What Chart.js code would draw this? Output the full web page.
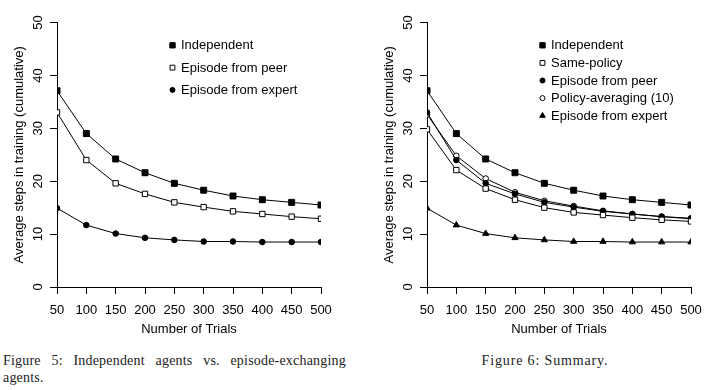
<!DOCTYPE html>
<html>
<head>
<meta charset="utf-8">
<script src="https://cdn.jsdelivr.net/npm/chart.js@4/dist/chart.umd.min.js"></script>
<style>
  html, body { margin:0; padding:0; background:#fff; }
  body { width:707px; height:390px; position:relative; overflow:hidden; }
  canvas { position:absolute; top:0; }
  #c1 { left:0; }
  #c2 { left:370px; }
  .cap { position:absolute; font-family:"Liberation Serif", "Times New Roman", serif; font-size:14px; line-height:17px; color:#222; }
  #cap5 { left:3px; top:352px; width:343px; letter-spacing:0.2px; }
  #cap5 .l1 { text-align:justify; text-align-last:justify; white-space:nowrap; }
  #cap6 { left:445px; top:352px; width:200px; text-align:center; letter-spacing:0.85px; }
</style>
</head>
<body>
<canvas id="c1" width="345" height="345"></canvas>
<canvas id="c2" width="345" height="345"></canvas>
<div class="cap" id="cap5"><div class="l1">Figure 5: Independent agents vs. episode-exchanging</div><div>agents.</div></div>
<div class="cap" id="cap6">Figure 6: Summary.</div>
<script>
const trials = [50, 100, 150, 200, 250, 300, 350, 400, 450, 500];
const independent = [37.1, 29.0, 24.2, 21.6, 19.6, 18.3, 17.2, 16.5, 16.0, 15.5];
const fromPeer = [33.0, 24.0, 19.6, 17.6, 16.0, 15.1, 14.3, 13.8, 13.3, 12.9];
const fromExpert = [14.9, 11.7, 10.1, 9.3, 8.9, 8.6, 8.6, 8.5, 8.5, 8.5];
const samePolicy = [29.8, 22.1, 18.6, 16.5, 15.0, 14.1, 13.6, 13.1, 12.7, 12.4];
const policyAvg = [32.6, 24.8, 20.5, 17.9, 16.3, 15.3, 14.4, 13.8, 13.3, 13.0];
const yTicks = [0, 10, 20, 30, 40, 50];

Chart.defaults.font.family = '"Liberation Sans", Arial, sans-serif';
Chart.defaults.font.size = 13;
Chart.defaults.color = '#000';

function series(label, values, style, fill, radius){
  return {
    label, data: trials.map((t,i)=>({x:t, y:values[i]})),
    borderColor:'#000', borderWidth:1, tension:0, fill:false,
    pointStyle:style, pointRadius:radius, pointHoverRadius:radius,
    pointBackgroundColor:fill, pointBorderColor:'#000', pointBorderWidth:1
  };
}

// legend inside the plot, drawn from the datasets
const innerLegend = {
  id:'innerLegend',
  afterDraw(chart, args, opts){
    const ctx = chart.ctx;
    ctx.save();
    ctx.font = '13px "Liberation Sans", Arial, sans-serif';
    ctx.textBaseline = 'middle';
    ctx.textAlign = 'left';
    chart.data.datasets.forEach((ds,i)=>{
      const y = opts.y + i*opts.gap;
      ctx.fillStyle = ds.pointBackgroundColor;
      ctx.strokeStyle = '#000';
      ctx.lineWidth = 1;
      Chart.helpers.drawPoint(ctx, {pointStyle:ds.pointStyle, radius:ds.pointRadius*0.9, rotation:0, borderWidth:1}, opts.x, y);
      ctx.fillStyle = '#000';
      ctx.fillText(ds.label, opts.x + 8.5, y + 0.5);
    });
    ctx.restore();
  }
};

function makeChart(id, datasets, legendGap){
  return new Chart(document.getElementById(id), {
    type:'line',
    data:{datasets},
    plugins:[innerLegend],
    options:{
      responsive:false, animation:false,
      layout:{padding:{top:22.5, right:24, left:0, bottom:0}},
      plugins:{legend:{display:false}, tooltip:{enabled:false}, innerLegend:{x:172.5, y:45.3, gap:legendGap}},
      scales:{
        x:{
          type:'linear', min:50, max:500,
          afterBuildTicks: s => { s.ticks = trials.map(v=>({value:v})); },
          afterFit: s => { s.height = 58; },
          ticks:{padding:8.5, maxRotation:0, autoSkip:false},
          grid:{drawOnChartArea:false, tickLength:7, color:'#000'},
          border:{display:true, color:'#000', width:1},
          title:{display:true, text:'Number of Trials', font:{size:13}, padding:{top:0, bottom:8}}
        },
        y:{
          min:0, max:50,
          afterBuildTicks: s => { s.ticks = yTicks.map(v=>({value:v})); },
          afterFit: s => { s.width = 57; },
          ticks:{padding:4, minRotation:90, maxRotation:90, crossAlign:'center'},
          grid:{drawOnChartArea:false, tickLength:7, color:'#000'},
          border:{display:true, color:'#000', width:1},
          title:{display:true, text:'Average steps in training (cumulative)', font:{size:13}, padding:{top:12, bottom:0}}
        }
      }
    }
  });
}

makeChart('c1', [
  series('Independent', independent, 'rect', '#000', 4.2),
  series('Episode from peer', fromPeer, 'rect', '#fff', 3.8),
  series('Episode from expert', fromExpert, 'circle', '#000', 2.8)
], 22.3);

makeChart('c2', [
  series('Independent', independent, 'rect', '#000', 4.2),
  series('Same-policy', samePolicy, 'rect', '#fff', 3.8),
  series('Episode from peer', fromPeer, 'circle', '#000', 2.8),
  series('Policy-averaging (10)', policyAvg, 'circle', '#fff', 2.8),
  series('Episode from expert', fromExpert, 'triangle', '#000', 3.6)
], 17.6);
</script>
</body>
</html>
